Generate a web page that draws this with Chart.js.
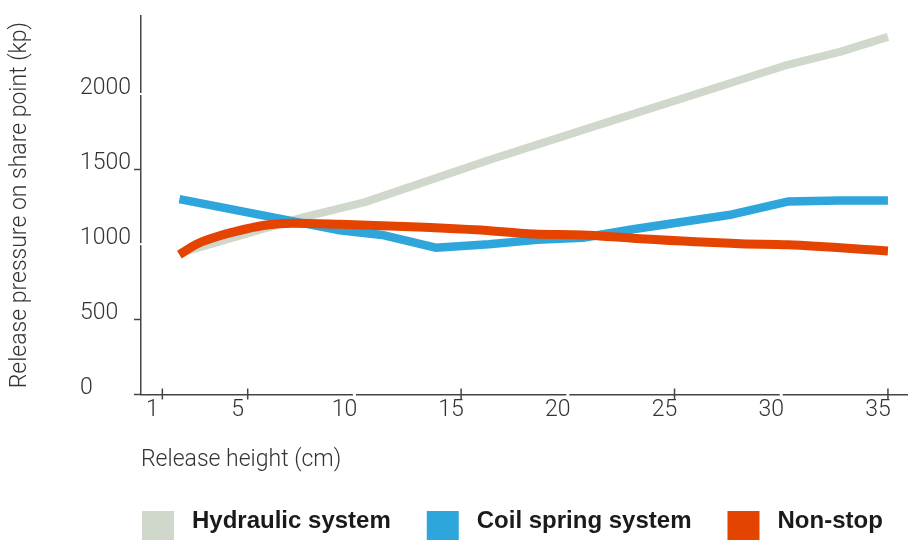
<!DOCTYPE html>
<html>
<head>
<meta charset="utf-8">
<script src="https://cdn.jsdelivr.net/npm/chart.js@4/dist/chart.umd.min.js"></script>
<style>
  html, body { margin: 0; padding: 0; background: #fff; overflow: hidden; }
  #wrap { position: relative; width: 908px; height: 540px; }
</style>
</head>
<body>
<div id="wrap"><canvas id="c" width="908" height="540"></canvas></div>
<script>
// ---- data ----
const seriesNames = ['Hydraulic system', 'Coil spring system', 'Non-stop'];
const seriesColors = ['#CFD8CB', '#2EA6DC', '#E54300'];

const hydraulicX = [1.8, 7.5, 10.5, 16.35, 22.45, 25.65, 30.3, 32.75, 35];
const hydraulicY = [940, 1175, 1280, 1562, 1839, 1983, 2194, 2280, 2380];

const coilX = [1.8, 9.2, 11.3, 13.8, 16.3, 18.55, 20.7, 23.05, 27.7, 30.3, 32.75, 35];
const coilY = [1300, 1095, 1062, 977, 1000, 1029, 1043, 1100, 1198, 1284, 1291, 1291];

const nonstopX = [1.8, 2.6, 3.5, 4.3, 5.8, 7.1, 9.3, 13.3, 15.9, 18.4, 20.7, 23.4, 28.1, 30.3, 35];
const nonstopY = [930, 1000, 1048, 1080, 1126, 1140, 1133, 1113, 1094, 1068, 1062, 1036, 1003, 996, 955];

const xTickValues = [1, 5, 10, 15, 20, 25, 30, 35];
const yTickValues = [0, 500, 1000, 1500, 2000];
const xTitle = 'Release height (cm)';
const yTitle = 'Release pressure on share point (kp)';

// ---- build datasets ----
const toPoints = (xs, ys) => xs.map((x, i) => ({ x: x, y: ys[i] }));
const datasets = [
  { label: seriesNames[0], data: toPoints(hydraulicX, hydraulicY), borderColor: seriesColors[0], backgroundColor: seriesColors[0], borderWidth: 8, tension: 0, order: 3 },
  { label: seriesNames[1], data: toPoints(coilX, coilY), borderColor: seriesColors[1], backgroundColor: seriesColors[1], borderWidth: 8.5, tension: 0, order: 2 },
  { label: seriesNames[2], data: toPoints(nonstopX, nonstopY), borderColor: seriesColors[2], backgroundColor: seriesColors[2], borderWidth: 9, cubicInterpolationMode: 'monotone', order: 1 }
];

const axisColor = '#444';
const labelFont = { family: 'Roboto, "Liberation Sans", sans-serif', size: 23, weight: 300 };
const titleFont = { family: 'Roboto, "Liberation Sans", sans-serif', size: 23, weight: 300 };

// axis decorations: crossing ticks / white breaks, placed via the scales
const axisMarks = {
  id: 'axisMarks',
  afterDraw(chart) {
    const { ctx, chartArea } = chart;
    const xs = chart.scales.x, ys = chart.scales.y;
    const by = chartArea.bottom, ax = chartArea.left;
    ctx.save();
    ctx.strokeStyle = axisColor;
    ctx.lineWidth = 1.5;
    xs.ticks.forEach(t => {
      const px = xs.getPixelForValue(t.value);
      if (t.value % 10 === 0) {
        ctx.fillStyle = '#fff';
        ctx.fillRect(px - 1.5, by - 3, 3, 6);
      } else {
        ctx.beginPath();
        ctx.moveTo(px, by - 6);
        ctx.lineTo(px, by + 5);
        ctx.stroke();
      }
    });
    ys.ticks.forEach(t => {
      if (t.value && t.value % 1000 === 0) {
        const py = ys.getPixelForValue(t.value);
        ctx.fillStyle = '#fff';
        ctx.fillRect(ax - 3, py - 1, 6, 2);
      }
    });
    ctx.restore();
  }
};

// legend drawn on the canvas from the chart's datasets
const bottomLegend = {
  id: 'bottomLegend',
  afterDraw(chart) {
    const { ctx, chartArea } = chart;
    ctx.save();
    ctx.font = 'bold 24px "Liberation Sans", Arial, sans-serif';
    ctx.textBaseline = 'alphabetic';
    ctx.textAlign = 'left';
    let x = chartArea.left + 1;
    const top = chart.height - 29;
    chart.data.datasets.forEach(ds => {
      ctx.fillStyle = ds.borderColor;
      ctx.fillRect(x, top, 32, 29);
      x += 32 + 18;
      ctx.fillStyle = '#1a1a1a';
      ctx.fillText(ds.label, x, top + 17);
      x += ctx.measureText(ds.label).width + 36;
    });
    ctx.restore();
  }
};

new Chart(document.getElementById('c'), {
  type: 'line',
  data: { datasets: datasets },
  plugins: [axisMarks, bottomLegend],
  options: {
    responsive: false,
    animation: false,
    layout: { padding: { top: 12, right: 0, bottom: 65.5, left: 0 } },
    plugins: { legend: { display: false }, tooltip: { enabled: false } },
    elements: {
      point: { radius: 0, hoverRadius: 0 },
      line: { borderCapStyle: 'butt', borderJoinStyle: 'round', fill: false }
    },
    scales: {
      x: {
        type: 'linear',
        min: 0,
        max: 35.94,
        afterBuildTicks: s => { s.ticks = xTickValues.map(v => ({ value: v })); },
        afterFit: s => { s.height = 80; },
        grid: { drawOnChartArea: false, drawTicks: false },
        border: { display: true, color: axisColor, width: 1.5 },
        ticks: { font: labelFont, color: '#333', padding: 2, labelOffset: -10, autoSkip: false, maxRotation: 0, callback: v => String(v) },
        title: { display: true, text: xTitle, align: 'start', font: titleFont, color: '#333', padding: { top: 0, bottom: 0.7 } }
      },
      yTitle: {
        type: 'linear',
        position: 'left',
        weight: 1,
        min: 0,
        max: 2520,
        afterFit: s => { s.width = 80; },
        grid: { display: false, drawTicks: false },
        border: { display: false },
        ticks: { display: false },
        title: { display: true, text: yTitle, font: titleFont, color: '#333', padding: { top: 6, bottom: 0 } }
      },
      y: {
        type: 'linear',
        position: 'left',
        weight: 0,
        min: 0,
        max: 2520,
        afterBuildTicks: s => { s.ticks = yTickValues.map(v => ({ value: v })); },
        afterFit: s => { s.width = 61; },
        grid: {
          drawOnChartArea: false, drawTicks: true, tickLength: 7, tickWidth: 1.5,
          tickColor: c => (c.tick && c.tick.value !== 0 && c.tick.value % 1000 === 0) ? 'rgba(0,0,0,0)' : axisColor
        },
        border: { display: true, color: axisColor, width: 1.5 },
        ticks: { font: labelFont, color: '#333', padding: 2, labelOffset: -6, crossAlign: 'far', callback: v => String(v) }
      }
    }
  }
});
</script>
</body>
</html>
